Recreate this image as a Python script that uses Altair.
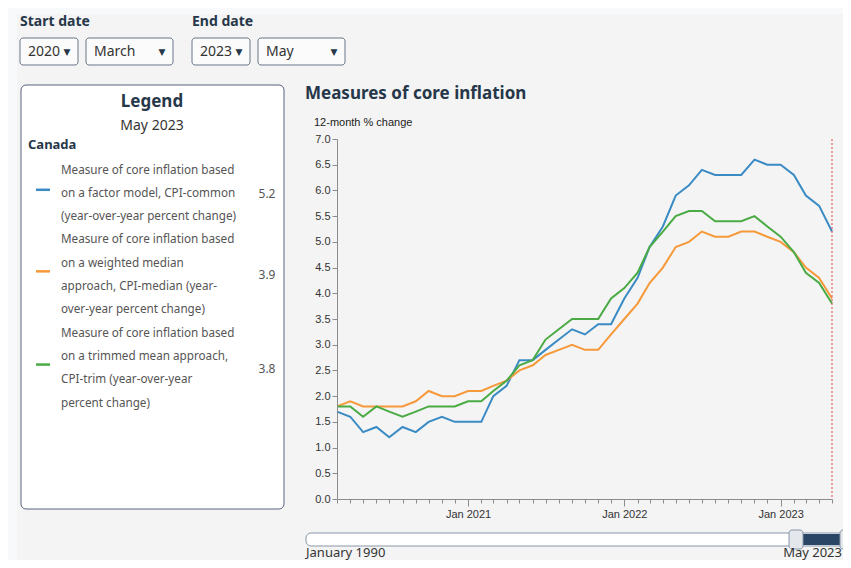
import altair as alt
import pandas as pd

# ---------------- data ----------------
months = pd.date_range("2020-03-01", "2023-05-01", freq="MS").strftime("%Y-%m-%d").tolist()

cpi_common = [1.7, 1.6, 1.3, 1.4, 1.2, 1.4, 1.3, 1.5, 1.6, 1.5,
              1.5, 1.5, 2.0, 2.2, 2.7, 2.7, 2.9, 3.1, 3.3, 3.2, 3.4, 3.4,
              3.9, 4.3, 4.9, 5.3, 5.9, 6.1, 6.4, 6.3, 6.3, 6.3, 6.6, 6.5,
              6.5, 6.3, 5.9, 5.7, 5.2]
cpi_median = [1.8, 1.9, 1.8, 1.8, 1.8, 1.8, 1.9, 2.1, 2.0, 2.0,
              2.1, 2.1, 2.2, 2.3, 2.5, 2.6, 2.8, 2.9, 3.0, 2.9, 2.9, 3.2,
              3.5, 3.8, 4.2, 4.5, 4.9, 5.0, 5.2, 5.1, 5.1, 5.2, 5.2, 5.1,
              5.0, 4.8, 4.5, 4.3, 3.9]
cpi_trim = [1.8, 1.8, 1.6, 1.8, 1.7, 1.6, 1.7, 1.8, 1.8, 1.8,
            1.9, 1.9, 2.1, 2.3, 2.6, 2.7, 3.1, 3.3, 3.5, 3.5, 3.5, 3.9,
            4.1, 4.4, 4.9, 5.2, 5.5, 5.6, 5.6, 5.4, 5.4, 5.4, 5.5, 5.3,
            5.1, 4.8, 4.4, 4.2, 3.8]

series_names = ["CPI-common", "CPI-median", "CPI-trim"]
series_colors = ["#3a8bc4", "#f6993a", "#4aab45"]
legend_lines = [
    ["Measure of core inflation based", "on a factor model, CPI-common", "(year-over-year percent change)"],
    ["Measure of core inflation based", "on a weighted median", "approach, CPI-median (year-", "over-year percent change)"],
    ["Measure of core inflation based", "on a trimmed mean approach,", "CPI-trim (year-over-year", "percent change)"],
]
y_ticks = [0.0, 0.5, 1.0, 1.5, 2.0, 2.5, 3.0, 3.5, 4.0, 4.5, 5.0, 5.5, 6.0, 6.5, 7.0]
start_year, start_month, end_year, end_month = "2020", "March", "2023", "May"

rows = []
for name, vals in zip(series_names, [cpi_common, cpi_median, cpi_trim]):
    for d, v in zip(months, vals):
        rows.append({"date": d, "series": name, "value": v})
df = pd.DataFrame(rows)

# ---------------- layout ----------------
OX, OY = 337, 139          # page position of plot origin
W, H = 495, 360
NAVY = "#26374a"

def dt(s):
    y, m, _ = s.split("-")
    return alt.DateTime(year=int(y), month=int(m), date=1, utc=True)

one = alt.Data(values=[{"k": 1}])

def txt(s, x, y, size=12, color="#333333", weight="normal", align="left", font="Noto Sans"):
    return alt.Chart(one).mark_text(
        text=s, align=align, baseline="middle", fontSize=size, fontWeight=weight,
        color=color, font=font
    ).encode(x=alt.value(x - OX), y=alt.value(y - OY))

def box(x1, y1, x2, y2, fill, stroke=None, radius=0, sw=1):
    kw = dict(fill=fill, cornerRadius=radius)
    if stroke:
        kw.update(stroke=stroke, strokeWidth=sw)
    return alt.Chart(one).mark_rect(**kw).encode(
        x=alt.value(x1 - OX), x2=alt.value(x2 - OX),
        y=alt.value(y1 - OY), y2=alt.value(y2 - OY))

def hline(x1, x2, y, color, width=2.5):
    return alt.Chart(one).mark_rule(color=color, strokeWidth=width).encode(
        x=alt.value(x1 - OX), x2=alt.value(x2 - OX), y=alt.value(y - OY))

layers = []
# panel background
layers.append(box(17, 14, 860, 580, "#f4f4f4"))

# dropdowns
layers.append(txt("Start date", 20, 22, 14, NAVY, "bold"))
layers.append(txt("End date", 192, 22, 14, NAVY, "bold"))
for (x1, x2, label) in [(20, 78, start_year), (86, 173, start_month),
                        (192, 250, end_year), (258, 345, end_month)]:
    layers.append(box(x1, 38, x2, 65, "#fbfbfb", "#6b7689", 3))
    layers.append(txt(label, x1 + 8, 52, 14, "#333333"))
    layers.append(txt("▼", x2 - 11, 52, 9, "#26374a", align="center", font="DejaVu Sans"))

# legend box
layers.append(box(21, 85, 284, 509, "#ffffff", "#56637a", 5))
layers.append(txt("Legend", 152, 102, 17, NAVY, "bold", "center"))
layers.append(txt(f"{end_month} {end_year}", 152, 126, 14, "#333333", align="center"))
layers.append(txt("Canada", 28, 145, 13, NAVY, "bold"))
latest = [cpi_common[-1], cpi_median[-1], cpi_trim[-1]]
line_y = 169.5
for lines, col, val in zip(legend_lines, series_colors, latest):
    ys = [line_y + i * 23.3 for i in range(len(lines))]
    for s, yy in zip(lines, ys):
        layers.append(txt(s, 61, yy, 11.7, "#555555"))
    mid = (ys[0] + ys[-1]) / 2
    layers.append(hline(36, 50, mid - 3, col))
    layers.append(txt(f"{val:.1f}", 267, mid + 1, 12, "#555555", align="center"))
    line_y = ys[-1] + 23.3

# chart title and y title
layers.append(txt("Measures of core inflation", 305, 94, 17, NAVY, "bold"))
layers.append(txt("12-month % change", 314, 123, 11, "#222222", font="Liberation Sans"))

# slider
layers.append(box(306, 533, 900, 546, "#ffffff", "#8a96a8", 5))
layers.append(box(800, 534, 845, 545, "#2b4566"))
layers.append(box(789, 530, 803, 549, "#e4e7ec", "#8a96a8", 3))
layers.append(box(840, 530, 854, 549, "#e4e7ec", "#8a96a8", 3))
layers.append(txt("January 1990", 306, 553, 13, "#333333"))
layers.append(txt(f"{end_month} {end_year}", 842, 553, 13, "#333333", align="right"))

# ---------------- data layers ----------------
xscale = alt.Scale(type="utc", domain=[dt(months[0]), dt(months[-1])], nice=False)
common_axis = dict(domainColor="#8c8c8c", tickColor="#8c8c8c", labelColor="#333333",
                   labelFont="Liberation Sans", labelFontSize=11, grid=False, title=None,
                   zindex=1, orient="bottom")
minor_axis = alt.Axis(values=[dt(m) for m in months], labels=False, tickSize=4, **common_axis)
jan_months = [m for m in months if m.endswith("-01-01")]
major_axis = alt.Axis(values=[dt(m) for m in jan_months], format="%b %Y", tickSize=7,
                      labelPadding=2, labelOverlap=False, labelFlush=False, domain=False,
                      **common_axis)
yaxis = alt.Axis(
    values=y_ticks, format=".1f", grid=False, title=None, tickSize=5,
    domainColor="#8c8c8c", tickColor="#8c8c8c", labelColor="#333333",
    labelFont="Liberation Sans", labelFontSize=11, labelPadding=2, zindex=1)

lines = alt.Chart(df).mark_line(strokeWidth=2).encode(
    x=alt.X("date:T", scale=xscale, axis=minor_axis),
    y=alt.Y("value:Q", scale=alt.Scale(domain=[0, 7], nice=False, zero=True), axis=yaxis),
    color=alt.Color("series:N", scale=alt.Scale(domain=series_names, range=series_colors), legend=None),
)
end_rule = alt.Chart(pd.DataFrame({"date": [months[-1]]})).mark_rule(
    color="#e04a4a", strokeDash=[2, 2], strokeWidth=1).encode(
    x=alt.X("date:T", scale=xscale, axis=major_axis))

chart = alt.layer(*layers, lines, end_rule).resolve_axis(x="independent").properties(
    width=W, height=H,
    autosize=alt.AutoSizeParams(type="none"),
    padding={"left": OX - 8, "top": OY - 8, "right": 835 - (OX - 8) - W, "bottom": 552 - (OY - 8) - H},
    background="#f8f9fa",
).configure_view(stroke=None)

chart.save("out.html", embed_options={"renderer": "svg", "actions": False})
